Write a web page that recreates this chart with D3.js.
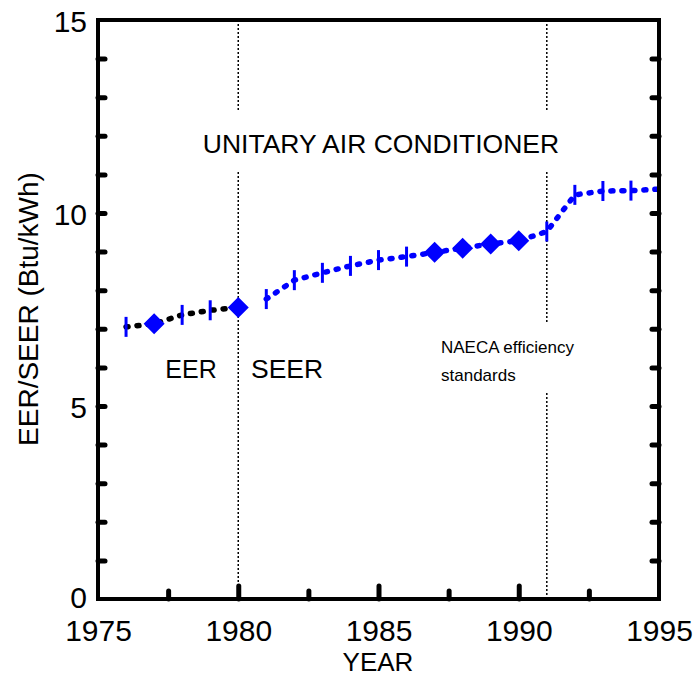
<!DOCTYPE html>
<html>
<head>
<meta charset="utf-8">
<script src="https://cdn.jsdelivr.net/npm/d3@7"></script>
<style>
  html, body { margin: 0; padding: 0; background: #fff; }
  svg { display: block; font-family: "Liberation Sans", Arial, sans-serif; }
</style>
</head>
<body>
<svg id="chart" width="698" height="676"></svg>
<script>
// ---- data ----
const eerYears   = [1976, 1977, 1978, 1979, 1980];
const eerValues  = [7.05, 7.13, 7.36, 7.48, 7.55];
const eerMarkers = ["bar", "diamond", "bar", "bar", "diamond"];

const seerYears   = [1981, 1982, 1983, 1984, 1985, 1986, 1987, 1988, 1989, 1990, 1991, 1992, 1993, 1994, 1995];
const seerValues  = [7.77, 8.26, 8.45, 8.63, 8.78, 8.87, 8.98, 9.09, 9.20, 9.28, 9.52, 10.47, 10.57, 10.58, 10.62];
const seerMarkers = ["bar", "bar", "bar", "bar", "bar", "bar", "diamond", "diamond", "diamond", "diamond", "bar", "bar", "bar", "bar", "bar"];

const xTickLabels = [1975, 1980, 1985, 1990, 1995];
const xMinorTicks = [1977.5, 1982.5, 1987.5, 1992.5];
const xMajorTicks = [1980, 1985, 1990];
const yTickLabels = [0, 5, 10, 15];
const yTicks      = [1,2,3,4,5,6,7,8,9,10,11,12,13,14];
const eventYears  = [1980, 1991];

// ---- layout ----
const svg = d3.select("#chart");
const L = 98, R = 659, T = 20, B = 599;
const x = d3.scaleLinear().domain([1975, 1995]).range([L, R]);
const y = d3.scaleLinear().domain([0, 15]).range([B, T]);

// vertical dotted event lines (with gaps around text)
const gapsFor = {
  1980: [[T, 112], [172, B]],
  1991: [[T, 112], [172, 322], [393, B]]
};
eventYears.forEach(yr => {
  gapsFor[yr].forEach(seg => {
    svg.append("line")
      .attr("x1", x(yr)).attr("x2", x(yr))
      .attr("y1", seg[0]).attr("y2", seg[1])
      .attr("stroke", "#000").attr("stroke-width", 1.5)
      .attr("stroke-dasharray", "2,2");
  });
});

// series lines
const line = d3.line().x(d => x(d[0])).y(d => y(d[1]));
function drawSeries(years, values, markers, lineColor) {
  const pts = years.map((yr, i) => [yr, values[i]]);
  svg.append("path")
    .datum(pts)
    .attr("d", line)
    .attr("fill", "none")
    .attr("stroke", lineColor)
    .attr("stroke-width", 5.5)
    .attr("stroke-linecap", "round")
    .attr("stroke-dasharray", "2,9");
  const g = svg.append("g");
  pts.forEach((p, i) => {
    const cx = x(p[0]), cy = y(p[1]);
    if (markers[i] === "diamond") {
      const r = 10.5;
      g.append("path")
        .attr("d", `M${cx},${cy - r}L${cx + r},${cy}L${cx},${cy + r}L${cx - r},${cy}Z`)
        .attr("fill", "#0000ff");
    } else {
      g.append("line")
        .attr("x1", cx).attr("x2", cx)
        .attr("y1", cy - 10).attr("y2", cy + 10)
        .attr("stroke", "#0000ff").attr("stroke-width", 3);
    }
  });
}
drawSeries(eerYears, eerValues, eerMarkers, "#000");
drawSeries(seerYears, seerValues, seerMarkers, "#0000ff");

// axes ticks (inward)
const tickStyle = sel => sel.selectAll("line")
  .attr("stroke", "#000").attr("stroke-width", 5).attr("stroke-linecap", "round");

const gl = svg.append("g").attr("transform", `translate(${L},0)`)
  .call(d3.axisLeft(y).tickValues(yTicks).tickSize(-7).tickFormat(""));
gl.select(".domain").remove(); tickStyle(gl);

const gr = svg.append("g").attr("transform", `translate(${R},0)`)
  .call(d3.axisRight(y).tickValues(yTicks).tickSize(-7).tickFormat(""));
gr.select(".domain").remove(); tickStyle(gr);

const gbMinor = svg.append("g").attr("transform", `translate(0,${B})`)
  .call(d3.axisBottom(x).tickValues(xMinorTicks).tickSize(-8).tickFormat(""));
gbMinor.select(".domain").remove(); tickStyle(gbMinor);

const gbMajor = svg.append("g").attr("transform", `translate(0,${B})`)
  .call(d3.axisBottom(x).tickValues(xMajorTicks).tickSize(-13).tickFormat(""));
gbMajor.select(".domain").remove(); tickStyle(gbMajor);

// frame
svg.append("rect")
  .attr("x", L).attr("y", T).attr("width", R - L).attr("height", B - T)
  .attr("fill", "none").attr("stroke", "#000").attr("stroke-width", 4);

// tick labels
const xl = svg.append("g").attr("transform", `translate(0,${B})`)
  .call(d3.axisBottom(x).tickValues(xTickLabels).tickSize(0).tickPadding(0).tickFormat(d3.format("d")));
xl.select(".domain").remove();
xl.selectAll("text").attr("font-size", 30).attr("font-family", "Liberation Sans, Arial, sans-serif")
  .attr("fill", "#000").attr("dy", null).attr("y", 42);

const yl = svg.append("g").attr("transform", `translate(${L},0)`)
  .call(d3.axisLeft(y).tickValues(yTickLabels).tickSize(0).tickPadding(0).tickFormat(d3.format("d")));
yl.select(".domain").remove();
yl.selectAll("text").attr("font-size", 30).attr("font-family", "Liberation Sans, Arial, sans-serif")
  .attr("fill", "#000").attr("x", -11).attr("dy", null).attr("y", d => d === 0 ? 8 : 11);

// axis titles
svg.append("text").attr("x", 378).attr("y", 671).attr("text-anchor", "middle")
  .attr("font-size", 26).text("YEAR");
svg.append("text").attr("transform", "translate(38,309) rotate(-90)")
  .attr("text-anchor", "middle").attr("font-size", 28).text("EER/SEER (Btu/kWh)");

// annotations
svg.append("text").attr("x", 381).attr("y", 153).attr("text-anchor", "middle")
  .attr("font-size", 26.5).text("UNITARY AIR CONDITIONER");
svg.append("text").attr("x", 191).attr("y", 378).attr("text-anchor", "middle")
  .attr("font-size", 25).text("EER");
svg.append("text").attr("x", 251).attr("y", 378).attr("text-anchor", "start")
  .attr("font-size", 26.5).text("SEER");
svg.append("text").attr("x", 441).attr("y", 353).attr("font-size", 17).text("NAECA efficiency");
svg.append("text").attr("x", 441).attr("y", 381).attr("font-size", 17).text("standards");
</script>
</body>
</html>
